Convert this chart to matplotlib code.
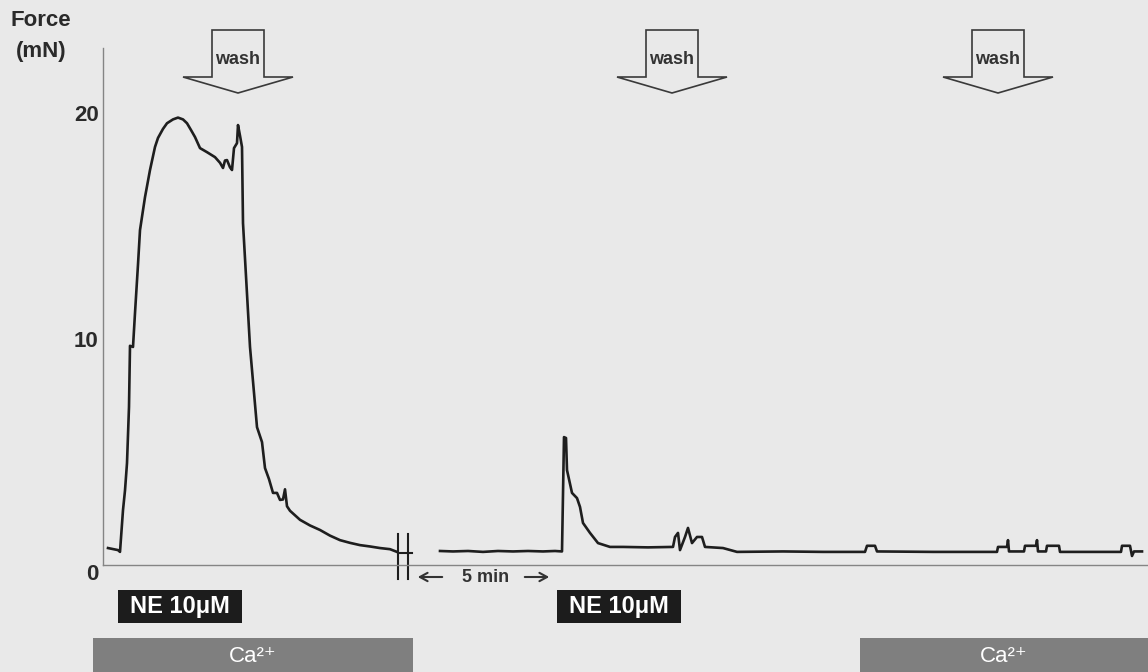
import matplotlib
matplotlib.use("Agg")
import matplotlib.pyplot as plt
from matplotlib.patches import Polygon, Rectangle
from matplotlib.transforms import blended_transform_factory, ScaledTranslation

plt.rcParams['font.family'] = ['Liberation Sans', 'DejaVu Sans']

# ---- data (time in a.u. from y axis, force in mN) ----
t_before = [5, 15, 17, 20, 22, 24, 26, 27, 30, 32, 35, 37, 40, 42, 47, 52, 55,
            60, 64, 70, 75, 80, 84, 88, 92, 97, 104, 112, 117, 120, 122, 124,
            127, 129, 131, 134, 135, 137, 139, 140, 147, 154, 159, 162, 166,
            170, 174, 177, 180, 182, 184, 187, 192, 197, 207, 217, 227, 237,
            247, 257, 267, 277, 287, 294]
f_before = [0.75, 0.66, 0.58, 2.43, 3.3, 4.51, 7.0, 9.7, 9.65, 11.15, 13.3,
            14.82, 15.7, 16.28, 17.48, 18.5, 18.9, 19.3, 19.55, 19.72, 19.8,
            19.72, 19.55, 19.25, 18.94, 18.45, 18.27, 18.05, 17.8, 17.57, 17.9,
            17.92, 17.6, 17.48, 18.45, 18.67, 19.47, 19.0, 18.5, 15.13, 9.65,
            6.1, 5.44, 4.29, 3.8, 3.19, 3.19, 2.88, 2.9, 3.35, 2.6, 2.4, 2.2,
            2.0, 1.75, 1.55, 1.3, 1.1, 0.98, 0.88, 0.82, 0.75, 0.7, 0.58]

t_after = [337, 350, 365, 380, 395, 410, 425, 440, 452, 459, 461, 463, 464,
           469, 474, 477, 480, 487, 495, 507, 520, 545, 570, 572, 575, 577,
           582, 585, 589, 594, 599, 602, 620, 634, 680, 720, 762, 764, 772,
           774, 830, 894, 895, 904, 905, 906, 921, 922, 933, 934, 935, 943,
           944, 956, 957, 990, 1018, 1019, 1027, 1029, 1031, 1039]
f_after = [0.62, 0.6, 0.62, 0.58, 0.62, 0.6, 0.62, 0.6, 0.62, 0.6, 5.66, 5.62,
           4.2, 3.19, 2.96, 2.57, 1.86, 1.42, 0.97, 0.8, 0.8, 0.78, 0.8, 1.24,
           1.42, 0.66, 1.24, 1.64, 0.97, 1.24, 1.24, 0.8, 0.75, 0.58, 0.6,
           0.58, 0.58, 0.85, 0.85, 0.6, 0.58, 0.58, 0.8, 0.8, 1.1, 0.6, 0.6,
           0.85, 0.85, 1.1, 0.6, 0.6, 0.85, 0.85, 0.58, 0.58, 0.58, 0.85,
           0.85, 0.4, 0.6, 0.6]

wash_times = [135, 569, 895]
ne_periods = [(15, 139), (454, 578)]
ca_periods = [(-10, 310), (757, 1045)]
break_times = [295, 305]
gap_span = (312, 449)   # "5 min" between the two arrows
yticks = [0, 10, 20]

BG = '#e9e9e9'
INK = '#1e1e1e'

fig = plt.figure(figsize=(11.48, 6.72), dpi=100, facecolor=BG)
# overlay in pixel coordinates for annotations
over = fig.add_axes([0, 0, 1, 1], facecolor='none')
over.set_xlim(0, 1148)
over.set_ylim(672, 0)
over.axis('off')

ax = fig.add_axes([103 / 1148, 107 / 672, 1045 / 1148, 517 / 672], facecolor='none')
ax.set_xlim(0, 1045)
ax.set_ylim(0, 22.88)
for s in ['top', 'right']:
    ax.spines[s].set_visible(False)
for s in ['left', 'bottom']:
    ax.spines[s].set_color('#858585')
    ax.spines[s].set_linewidth(1.0)
ax.set_xticks([])
ax.set_yticks(yticks)
ax.set_yticklabels([str(v) for v in yticks], fontsize=16, fontweight='bold',
                   color='#2a2a2a')
ax.tick_params(axis='y', length=0, pad=3)
# the "0" sits a little below the baseline
lbl0 = ax.get_yticklabels()[0]
lbl0.set_transform(lbl0.get_transform() + ScaledTranslation(0, -0.07, fig.dpi_scale_trans))

ax.plot(t_before, f_before, color=INK, lw=1.9, solid_joinstyle='round')
ax.plot(t_after, f_after, color=INK, lw=1.9, solid_joinstyle='round')

# axis break
for bt in break_times:
    ax.plot([bt, bt], [-0.6, 1.35], color=INK, lw=1.5, clip_on=False)
ax.plot([break_times[0], break_times[1] + 4], [0.55, 0.55], color=INK, lw=1.5)

# y label
over.text(11, 21, 'Force', fontsize=16, fontweight='bold', color='#2a2a2a',
          ha='left', va='center')
over.text(16, 51, '(mN)', fontsize=16, fontweight='bold', color='#2a2a2a',
          ha='left', va='center')

mix = blended_transform_factory(ax.transData, over.transData)

# wash arrows
for wt in wash_times:
    pts = [(wt - 26, 30), (wt + 26, 30), (wt + 26, 77), (wt + 55, 77),
           (wt, 93), (wt - 55, 77), (wt - 26, 77)]
    over.add_patch(Polygon(pts, closed=True, facecolor='none', edgecolor='#3a3a3a',
                           lw=1.2, transform=mix, clip_on=False))
    over.text(wt, 60, 'wash', transform=mix, fontsize=13, fontweight='bold',
              color='#333333', ha='center', va='center')

# 5 min marker
aprops = dict(arrowstyle='->,head_length=0.55,head_width=0.3', color='#333333', lw=1.5)
over.annotate('', xy=(gap_span[0], 577), xytext=(gap_span[0] + 30, 577),
              xycoords=mix, textcoords=mix, arrowprops=aprops)
over.annotate('', xy=(gap_span[1], 577), xytext=(gap_span[1] - 30, 577),
              xycoords=mix, textcoords=mix, arrowprops=aprops)
over.text(sum(gap_span) / 2 + 2, 578, '5 min', transform=mix, fontsize=13,
          fontweight='bold', color='#333333', ha='center', va='center')

# NE application boxes
for t0, t1 in ne_periods:
    over.add_patch(Rectangle((t0, 590), t1 - t0, 33, facecolor='#1c1c1c',
                             edgecolor='none', transform=mix, clip_on=False))
    over.text((t0 + t1) / 2, 607, 'NE 10μM', transform=mix, fontsize=17,
              fontweight='bold', color='white', ha='center', va='center')

# Ca2+ bars
for t0, t1 in ca_periods:
    over.add_patch(Rectangle((t0, 638), t1 - t0, 40, facecolor='#7f7f7f',
                             edgecolor='none', transform=mix, clip_on=False))
    over.text((t0 + t1) / 2, 656, 'Ca²⁺', transform=mix, fontsize=16,
              color='white', ha='center', va='center')

fig.savefig('out.png', dpi=100, facecolor=BG)
